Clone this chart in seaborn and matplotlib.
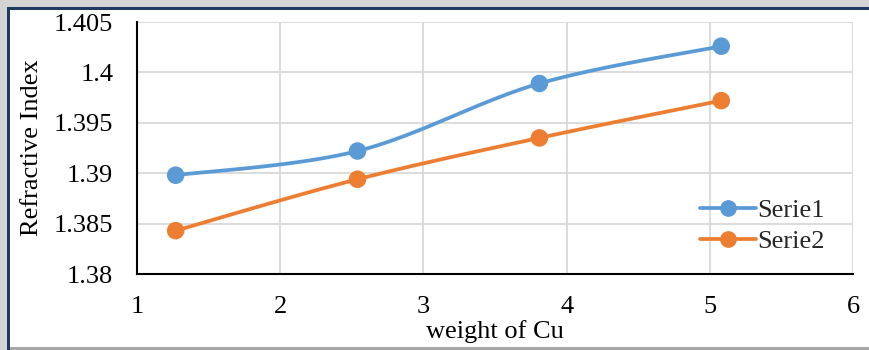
import numpy as np
import pandas as pd
import matplotlib
matplotlib.use("Agg")
import matplotlib.pyplot as plt
from matplotlib.lines import Line2D
from matplotlib.patches import Rectangle
import seaborn as sns

# ---- data ----
weight_cu = [1.27, 2.54, 3.81, 5.08]
serie1 = [1.3898, 1.3922, 1.3989, 1.4026]
serie2 = [1.3843, 1.3894, 1.3935, 1.3972]
series_names = ["Serie1", "Serie2"]
colors = ["#5B9BD5", "#ED7D31"]
x_ticks = [1, 2, 3, 4, 5, 6]
y_ticks = [1.38, 1.385, 1.39, 1.395, 1.4, 1.405]
y_tick_labels = ["1.38", "1.385", "1.39", "1.395", "1.4", "1.405"]

sns.set_theme(style="white")
plt.rcParams["font.family"] = ["Liberation Serif", "DejaVu Serif"]

W, H = 869, 350
fig = plt.figure(figsize=(W / 100, H / 100), dpi=100)
fig.patch.set_facecolor("white")

# window-like frame
fig.patches.append(Rectangle((0, 1 - 7 / H), 1, 7 / H, transform=fig.transFigure,
                             facecolor="#d4d4d4", edgecolor="none", zorder=0))
fig.patches.append(Rectangle((0, 0), 7 / W, 1, transform=fig.transFigure,
                             facecolor="#d4d4d4", edgecolor="none", zorder=0))
fig.patches.append(Rectangle((7 / W, 1 - 9.5 / H), 1, 2.5 / H, transform=fig.transFigure,
                             facecolor="#1f3864", edgecolor="none", zorder=1))
fig.patches.append(Rectangle((7 / W, 0), 2.5 / W, 1 - 7 / H, transform=fig.transFigure,
                             facecolor="#1f3864", edgecolor="none", zorder=1))
fig.patches.append(Rectangle((9.5 / W, 0), 1, 3 / H, transform=fig.transFigure,
                             facecolor="#a6a6a6", edgecolor="none", zorder=1))

ax = fig.add_axes([137 / W, 1 - 274 / H, (853 - 137) / W, (274 - 22) / H])


def smooth(xs, ys, n=40):
    p = np.column_stack([xs, ys]).astype(float)
    out = [p[0]]
    for i in range(len(p) - 1):
        p0 = p[i - 1] if i > 0 else p[i]
        p1, p2 = p[i], p[i + 1]
        p3 = p[i + 2] if i + 2 < len(p) else p[i + 1]
        c1 = p1 + (p2 - p0) / 6
        c2 = p2 - (p3 - p1) / 6
        t = np.linspace(0, 1, n)[1:, None]
        seg = ((1 - t) ** 3) * p1 + 3 * ((1 - t) ** 2) * t * c1 + 3 * (1 - t) * t ** 2 * c2 + t ** 3 * p2
        out.extend(seg)
    out = np.array(out)
    return out[:, 0], out[:, 1]


df = pd.DataFrame({
    "x": weight_cu * 2,
    "y": serie1 + serie2,
    "series": [series_names[0]] * 4 + [series_names[1]] * 4,
})

for name, ys, c in zip(series_names, [serie1, serie2], colors):
    sx, sy = smooth(weight_cu, ys)
    ax.plot(sx, sy, color=c, lw=2.7, zorder=3, solid_capstyle="round")

sns.scatterplot(data=df, x="x", y="y", hue="series", palette=colors, s=160,
                edgecolor="none", legend=False, ax=ax, zorder=4)

ax.set_xlim(1, 6)
ax.set_ylim(1.38, 1.405)
ax.set_xticks(x_ticks)
ax.set_xticklabels([str(v) for v in x_ticks])
ax.set_yticks(y_ticks)
ax.set_yticklabels(y_tick_labels)
ax.grid(True, color="#d9d9d9", lw=1.3)
ax.set_axisbelow(True)
for s in ["top", "right"]:
    ax.spines[s].set_visible(False)
for s in ["left", "bottom"]:
    ax.spines[s].set_color("black")
    ax.spines[s].set_linewidth(1.5)
    ax.spines[s].set_zorder(5)
ax.tick_params(axis="both", which="both", length=0, labelsize=19, colors="black")
ax.tick_params(axis="y", pad=17)
ax.tick_params(axis="x", pad=16)
ax.set_xlabel("weight of Cu", fontsize=19, labelpad=1, color="black")
ax.set_ylabel("Refractive Index", fontsize=19, labelpad=8, color="black")

handles = [Line2D([0], [0], color=c, lw=2.7, marker="o", markersize=11) for c in colors]
ax.legend(handles, series_names, loc="lower right", bbox_to_anchor=(0.975, 0.04),
          frameon=False, fontsize=19, handlelength=2.1, handletextpad=0.05,
          labelspacing=0.3, borderaxespad=0)

fig.savefig("out.png", dpi=100)
